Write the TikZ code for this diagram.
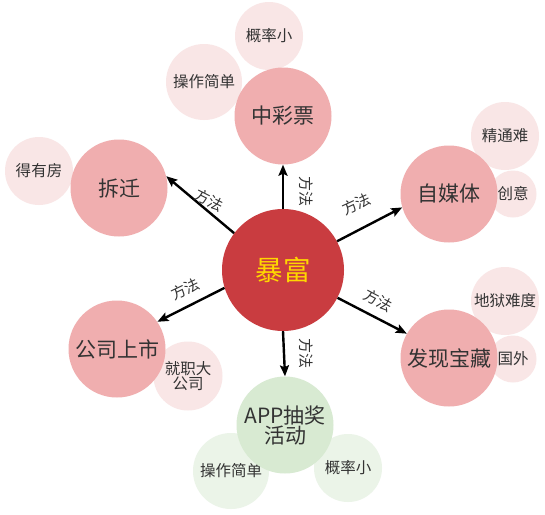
\documentclass[tikz,border=0pt]{standalone}
\usepackage{fontspec}
\setmainfont{Noto Sans CJK SC}
\usetikzlibrary{arrows.meta}
\definecolor{cred}{HTML}{C93C40}
\definecolor{cpink}{HTML}{F0AEAF}
\definecolor{clpink}{HTML}{F9E6E6}
\definecolor{cgreen}{HTML}{D8EAD2}
\definecolor{clgreen}{HTML}{EBF4E8}
\definecolor{cyel}{HTML}{FFD700}
\definecolor{ctxt}{HTML}{333333}
\tikzset{
  center/.style={circle, fill=cred, draw=none, minimum size=122pt, inner sep=0pt,
    text=cyel, font=\fontsize{27.5}{30}\selectfont},
  big/.style={circle, fill=cpink, draw=none, minimum size=97pt, inner sep=0pt,
    text=ctxt, font=\fontsize{21}{24}\selectfont, align=center},
  biggreen/.style={big, fill=cgreen},
  small/.style={circle, fill=clpink, draw=none, minimum size=#1, inner sep=0pt,
    text=ctxt, font=\fontsize{15.5}{18}\selectfont, align=center},
  smallgreen/.style={small=#1, fill=clgreen},
  arr/.style={draw=black, line width=2.4pt, -{Stealth[length=11pt,width=9pt,inset=2pt]}},
  lbl/.style={text=ctxt, font=\fontsize{15}{16}\selectfont, inner sep=0pt}
}
\begin{document}
\begin{tikzpicture}[x=1pt,y=-1pt]
\useasboundingbox[fill=white] (0,0) rectangle (545,514);
% small circles (behind)
\node[small=68pt] (s1) at (269,36) {概率小};
\node[small=76pt] (s2) at (204,82) {操作简单};
\node[small=68pt] (s3) at (505,136) {精通难};
\node[small=47pt] (s4) at (513,194) {创意};
\node[small=68pt] (s5) at (505,301) {地狱难度};
\node[small=47pt] (s6) at (513,359) {国外};
\node[small=68pt] (s7) at (39,171) {得有房};
\node[small=69pt] (s8) at (188,376) {就职大\\[-3pt]公司};
\node[smallgreen=76pt] (s9) at (231,471) {操作简单};
\node[smallgreen=68pt] (s10) at (348,468) {概率小};
% big circles
\node[center] (c) at (283,270) {暴富};
\node[big] (zcp) at (283,116) {中彩票};
\node[big] (zmt) at (449,194) {自媒体};
\node[big] (fxbz) at (449,358) {发现宝藏};
\node[big] (cq) at (119,188) {拆迁};
\node[big] (gsss) at (117,349) {公司上市};
\node[biggreen] (app) at (285,425) {APP抽奖\\[-4pt]活动};
% connectors
\draw[arr] (c.90) -- (zcp.270);
\draw[arr] (c.143) -- (cq.14);
\draw[arr] (c.28) -- (zmt.196);
\draw[arr] (c.-27) -- (fxbz.150);
\draw[arr] (c.197) -- (gsss.34);
\draw[arr] (c.270) -- (app.90);
% labels
\node[lbl, rotate=-90] (l1) at (306,191) {方法};
\node[lbl, rotate=-26.6] (l2) at (209.5,200) {方法};
\node[lbl, rotate=24.6] (l3) at (356.5,204) {方法};
\node[lbl, rotate=-27.9] (l4) at (378.5,300) {方法};
\node[lbl, rotate=25.4] (l5) at (185.5,289) {方法};
\node[lbl, rotate=-90] (l6) at (306,353) {方法};
\end{tikzpicture}
\end{document}
